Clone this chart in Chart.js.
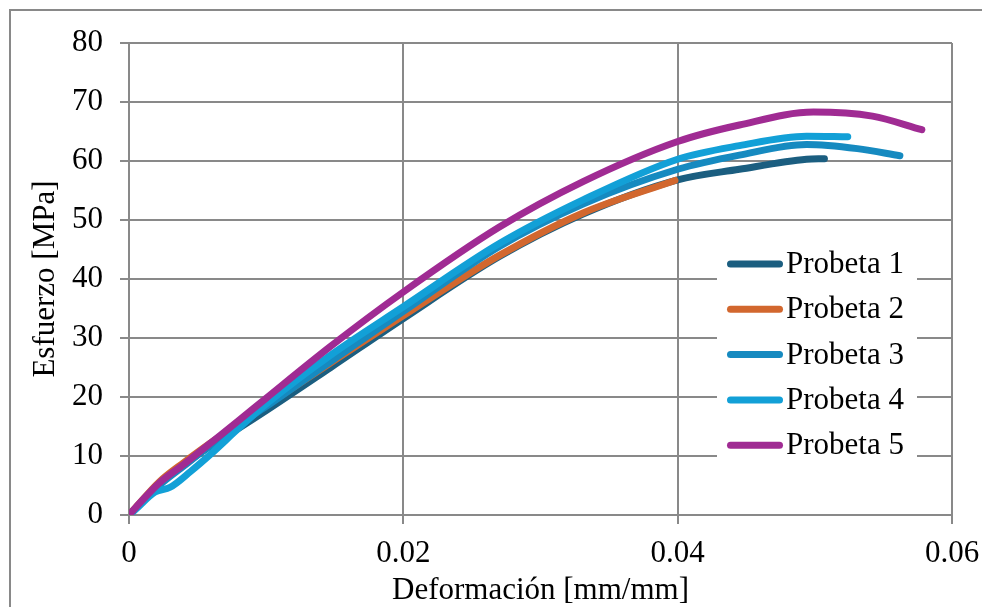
<!DOCTYPE html>
<html>
<head>
<meta charset="utf-8">
<script src="https://cdn.jsdelivr.net/npm/chart.js@4.4.1/dist/chart.umd.min.js"></script>
<style>
  html, body { margin: 0; padding: 0; background: #ffffff; }
  #wrap { width: 982px; height: 607px; position: relative; }
</style>
</head>
<body>
<div id="wrap"><canvas id="c" width="982" height="607"></canvas></div>
<script>
// ---- data ----
const seriesNames = ['Probeta 1', 'Probeta 2', 'Probeta 3', 'Probeta 4', 'Probeta 5'];
const xTitle = 'Deformación [mm/mm]';
const yTitle = 'Esfuerzo [MPa]';
const xTicks = [0, 0.02, 0.04, 0.06];
const yTicks = [0, 10, 20, 30, 40, 50, 60, 70, 80];

const p1x = [0, 0.0005, 0.0022, 0.004, 0.006, 0.008, 0.010, 0.0147, 0.020, 0.027, 0.0331, 0.040, 0.0445, 0.0494, 0.0507];
const p1y = [0, 1.2, 5.2, 8.5, 11.8, 14.7, 17.7, 25.0, 33.3, 43.8, 51.0, 56.8, 58.6, 60.3, 60.4];

const p2x = [0, 0.0005, 0.0022, 0.004, 0.006, 0.008, 0.010, 0.0147, 0.020, 0.027, 0.0331, 0.0398];
const p2y = [0, 1.3, 5.6, 8.9, 12.3, 15.5, 18.6, 25.8, 33.8, 44.0, 51.2, 56.7];

const p3x = [0, 0.0005, 0.0022, 0.004, 0.006, 0.008, 0.010, 0.0147, 0.020, 0.027, 0.0331, 0.040, 0.0445, 0.0494, 0.0531, 0.0562];
const p3y = [0, 1.1, 5.0, 8.3, 11.9, 15.3, 18.4, 26.0, 34.5, 45.5, 52.7, 58.6, 61.0, 62.8, 62.1, 60.9];

const p4x = [0, 0.0005, 0.0019, 0.003, 0.0045, 0.006, 0.008, 0.010, 0.0147, 0.020, 0.027, 0.0331, 0.040, 0.0445, 0.0494, 0.0524];
const p4y = [0, 1.0, 3.9, 4.7, 7.4, 10.4, 14.7, 18.8, 27.1, 35.3, 46.0, 53.4, 60.3, 62.6, 64.2, 64.1];

const p5x = [0, 0.0005, 0.0022, 0.004, 0.006, 0.008, 0.010, 0.0147, 0.020, 0.027, 0.0331, 0.040, 0.0445, 0.0499, 0.0542, 0.0578];
const p5y = [0, 1.3, 5.4, 8.6, 12.3, 16.0, 19.8, 28.6, 37.8, 48.8, 56.5, 63.3, 66.1, 68.3, 67.6, 65.3];

const seriesX = [p1x, p2x, p3x, p4x, p5x];
const seriesY = [p1y, p2y, p3y, p4y, p5y];
const colors = ['#1b5e80', '#d2672e', '#168ac0', '#12a0d7', '#a02b93'];

// ---- styling ----
const FONT = 'Liberation Serif, "Times New Roman", serif';
const FSIZE = 31;
const GRID = '#898989';

const datasets = seriesNames.map((name, i) => ({
  label: name,
  data: seriesX[i].map((x, k) => ({ x: x, y: seriesY[i][k] })),
  borderColor: colors[i],
  backgroundColor: colors[i],
  borderWidth: 7,
  borderCapStyle: 'round',
  borderJoinStyle: 'round',
  pointRadius: 0,
  pointHoverRadius: 0,
  showLine: true,
  fill: false,
  cubicInterpolationMode: 'monotone',
  order: seriesNames.length - i
}));

const decorPlugin = {
  id: 'decor',
  beforeDraw(chart) {
    const ctx = chart.ctx;
    ctx.save();
    ctx.fillStyle = '#ffffff';
    ctx.fillRect(0, 0, chart.width, chart.height);
    ctx.strokeStyle = GRID;
    ctx.lineWidth = 2;
    ctx.strokeRect(10, 10, chart.width + 20, chart.height + 20);
    ctx.restore();
  },
  afterDraw(chart) {
    const ctx = chart.ctx;
    const a = chart.chartArea;
    ctx.save();
    // axis titles
    ctx.fillStyle = '#000000';
    ctx.font = FSIZE + 'px ' + FONT;
    ctx.textAlign = 'center';
    ctx.textBaseline = 'middle';
    ctx.fillText(xTitle, (a.left + a.right) / 2, 591);
    ctx.save();
    ctx.translate(46, (a.top + a.bottom) / 2);
    ctx.rotate(-Math.PI / 2);
    ctx.fillText(yTitle, 0, 0);
    ctx.restore();

    // legend inside plot area
    const bx = 717, by = 240, bw = 200, bh = 248;
    ctx.fillStyle = '#ffffff';
    ctx.fillRect(bx, by, bw, bh);
    const rowH = 45.3;
    const y0 = by + 24;
    chart.data.datasets.forEach((ds, i) => {
      const y = y0 + i * rowH;
      ctx.strokeStyle = ds.borderColor;
      ctx.lineWidth = 7;
      ctx.lineCap = 'round';
      ctx.beginPath();
      ctx.moveTo(bx + 13.5, y);
      ctx.lineTo(bx + 62.5, y);
      ctx.stroke();
      ctx.fillStyle = '#000000';
      ctx.textAlign = 'left';
      ctx.textBaseline = 'middle';
      ctx.fillText(ds.label, bx + 69, y + 1);
    });
    ctx.restore();
  }
};

new Chart(document.getElementById('c'), {
  type: 'scatter',
  data: { datasets: datasets },
  plugins: [decorPlugin],
  options: {
    responsive: false,
    animation: false,
    events: [],
    layout: { padding: { top: 43, right: 30, left: 0, bottom: 0 } },
    plugins: { legend: { display: false }, tooltip: { enabled: false } },
    scales: {
      x: {
        type: 'linear',
        min: 0, max: 0.06,
        afterFit(s) { s.height = 92; s.paddingRight = 0; s.paddingLeft = 0; },
        afterBuildTicks(s) { s.ticks = xTicks.map(v => ({ value: v })); },
        grid: { color: GRID, lineWidth: 2, tickLength: 9, drawTicks: true, tickColor: GRID },
        border: { display: true, color: GRID, width: 2 },
        ticks: {
          color: '#000000',
          font: { family: FONT, size: FSIZE },
          padding: 11,
          maxRotation: 0,
          callback: v => (v === 0 ? '0' : String(Number(v.toFixed(2))))
        },
        title: { display: false }
      },
      y: {
        type: 'linear',
        min: 0, max: 80,
        afterFit(s) { s.width = 129; s.paddingTop = 0; s.paddingBottom = 0; },
        afterBuildTicks(s) { s.ticks = yTicks.map(v => ({ value: v })); },
        grid: { color: GRID, lineWidth: 2, tickLength: 9, drawTicks: true, tickColor: GRID },
        border: { display: true, color: GRID, width: 2 },
        ticks: {
          color: '#000000',
          font: { family: FONT, size: FSIZE },
          padding: 17,
          callback: v => String(v)
        },
        title: { display: false }
      }
    }
  }
});
</script>
</body>
</html>
